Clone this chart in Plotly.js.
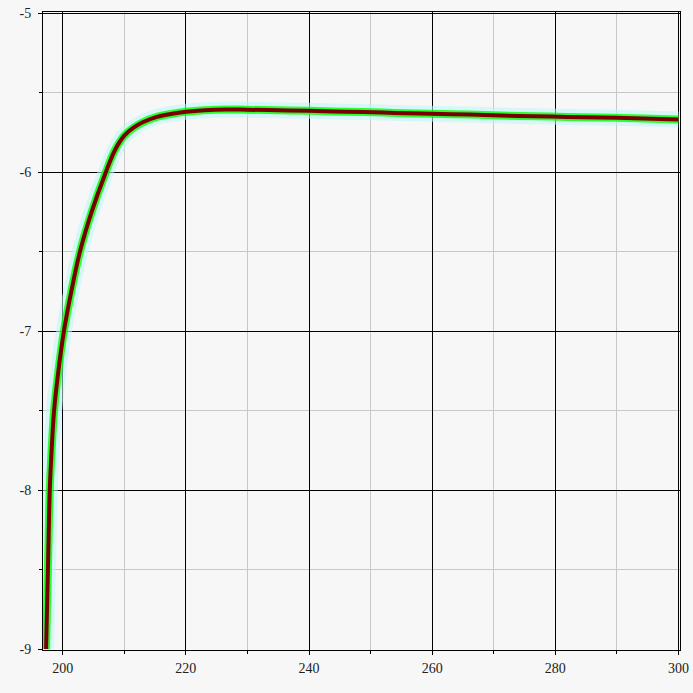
<!DOCTYPE html>
<html>
<head>
<meta charset="utf-8">
<script src="https://cdn.plot.ly/plotly-3.0.1.min.js"></script>
<style>html,body{margin:0;padding:0;background:#f7f7f7;}#chart{width:693px;height:693px;}</style>
</head>
<body>
<div id="chart"></div>
<script>
// Curve values
const xValues = [197.3, 197.45, 197.6, 197.9, 198.2, 198.6, 199.3, 200.2, 201.4, 202.8, 204.7, 207.0, 208.5, 210.0, 211.5, 213.0, 215.3, 217.8, 220.0, 223.0, 226.5, 230.0, 235.0, 240.0, 246.0, 252.0, 258.0, 266.0, 274.0, 282.0, 290.0, 300.0];
const yValues = [-9.0, -8.75, -8.5, -8.0, -7.75, -7.5, -7.25, -7.0, -6.75, -6.5, -6.25, -6.0, -5.86, -5.77, -5.72, -5.686, -5.652, -5.632, -5.62, -5.61, -5.605, -5.607, -5.61, -5.614, -5.619, -5.625, -5.631, -5.637, -5.646, -5.652, -5.658, -5.668];

const xTickVals = [200, 220, 240, 260, 280, 300];
const xTickText = ['200', '220', '240', '260', '280', '300'];
const yTickVals = [-9, -8, -7, -6, -5];
const yTickText = ['-9', '-8', '-7', '-6', '-5'];

const traces = [
  {x: xValues, y: yValues, mode: 'lines', line: {color: 'rgba(190,245,250,0.55)', width: 16, shape: 'spline'}, hoverinfo: 'skip'},
  {x: xValues, y: yValues, mode: 'lines', line: {color: 'rgba(0,255,0,0.8)', width: 8, shape: 'spline'}, hoverinfo: 'skip'},
  {x: xValues, y: yValues, mode: 'lines', line: {color: '#7a0000', width: 4, shape: 'spline'}}
];

const axisFont = {family: 'Liberation Serif, Times New Roman, Times, serif', size: 14, color: '#222'};

const layout = {
  width: 693, height: 693,
  margin: {l: 43, r: 13, t: 12, b: 43, pad: 0},
  paper_bgcolor: '#f7f7f7',
  plot_bgcolor: '#f7f7f7',
  showlegend: false,
  font: axisFont,
  xaxis: {
    range: [196.8, 300.25],
    tickmode: 'array', tickvals: xTickVals, ticktext: xTickText,
    ticks: 'outside', ticklen: 4, tickcolor: '#000', ticklabelstandoff: 1,
    showgrid: true, gridcolor: '#000', gridwidth: 1,
    zeroline: false,
    showline: true, linecolor: '#000', linewidth: 1, mirror: true,
    tickfont: axisFont,
    minor: {dtick: 10, tick0: 200, showgrid: true, gridcolor: '#c8c8c8', gridwidth: 1, ticks: 'outside', ticklen: 3, tickcolor: '#000'}
  },
  yaxis: {
    range: [-9.006, -4.992],
    tickmode: 'array', tickvals: yTickVals, ticktext: yTickText,
    ticks: 'outside', ticklen: 4, tickcolor: '#000', ticklabelstandoff: 4,
    showgrid: true, gridcolor: '#000', gridwidth: 1,
    zeroline: false,
    showline: true, linecolor: '#000', linewidth: 1, mirror: true,
    tickfont: axisFont,
    minor: {dtick: 0.5, tick0: -9, showgrid: true, gridcolor: '#c8c8c8', gridwidth: 1, ticks: 'outside', ticklen: 3, tickcolor: '#000'}
  }
};

Plotly.newPlot('chart', traces, layout, {displayModeBar: false, staticPlot: true});
</script>
</body>
</html>
